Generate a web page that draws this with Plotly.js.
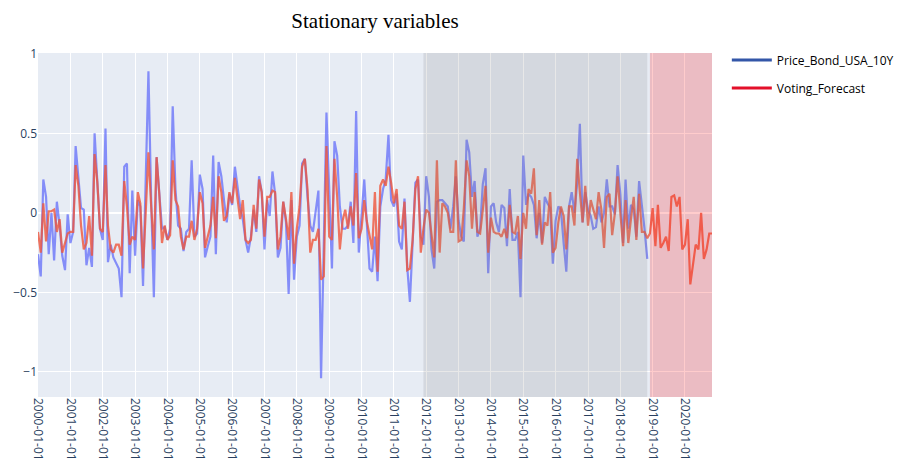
<!DOCTYPE html>
<html>
<head>
<meta charset="utf-8">
<script src="https://cdn.plot.ly/plotly-3.0.1.min.js"></script>
<style>html,body{margin:0;padding:0;background:#fff;}#chart{width:900px;height:466px;}</style>
</head>
<body>
<div id="chart"></div>
<script>
// Monthly series starting 2000-01
const startYear = 2000;
const bondValues = [
-0.26,-0.40,0.21,0.10,-0.26,0.00,-0.30,0.07,-0.08,-0.27,-0.36,-0.01,
-0.19,-0.12,0.42,0.22,0.03,0.02,-0.33,-0.22,-0.34,0.50,0.20,-0.10,
-0.17,0.53,-0.31,-0.20,-0.28,-0.32,-0.35,-0.53,0.29,0.31,-0.38,0.14,
-0.27,0.08,0.04,-0.46,0.27,0.89,0.10,-0.53,0.35,0.15,-0.10,-0.09,
-0.17,-0.10,0.67,0.15,-0.08,-0.10,-0.24,-0.12,-0.10,0.33,-0.15,-0.13,
0.24,0.15,-0.28,-0.21,-0.15,0.36,-0.26,0.32,0.23,0.08,-0.06,0.12,
0.05,0.29,0.17,0.04,-0.04,-0.17,-0.25,-0.15,0.02,-0.12,0.23,0.13,
-0.23,0.08,-0.02,0.26,0.12,-0.28,-0.22,0.07,-0.06,-0.51,0.08,-0.42,
-0.15,-0.08,0.31,0.34,0.10,-0.08,-0.12,0.02,0.14,-1.04,-0.20,0.63,
0.15,-0.35,0.45,0.36,0.04,-0.10,-0.10,-0.08,0.07,-0.19,0.64,-0.25,
-0.02,0.21,-0.06,-0.35,-0.37,-0.15,-0.43,0.04,0.15,0.21,0.49,0.08,
0.04,0.12,-0.18,-0.23,0.09,-0.34,-0.56,-0.23,0.19,0.21,-0.15,-0.20,
0.23,0.10,-0.23,-0.35,0.07,0.08,0.08,0.06,0.04,-0.10,0.04,0.23,
-0.05,-0.15,-0.18,0.46,0.38,0.10,0.20,-0.15,-0.10,0.18,0.28,-0.38,
0.04,0.06,-0.06,-0.12,0.05,0.03,-0.21,0.15,-0.17,-0.17,-0.12,-0.53,
0.36,0.05,0.12,0.10,0.05,-0.16,0.00,-0.19,0.10,0.06,0.03,-0.32,
-0.05,0.04,0.02,-0.19,-0.37,0.04,0.13,0.00,0.19,0.56,-0.06,0.13,
0.02,-0.02,-0.10,-0.09,0.04,-0.06,0.00,0.21,0.04,0.04,-0.01,0.30,
0.12,-0.19,0.21,-0.10,0.05,0.02,-0.15,0.20,0.06,-0.10,-0.29
];
const votingValues = [
-0.12,-0.25,0.06,-0.18,0.01,0.01,0.02,-0.12,-0.04,-0.25,-0.19,-0.13,
-0.12,-0.12,0.30,0.17,-0.08,-0.23,-0.19,-0.02,-0.27,0.37,0.19,-0.10,
-0.12,0.30,-0.08,-0.23,-0.25,-0.20,-0.20,-0.27,0.20,0.04,-0.20,-0.15,
-0.17,0.13,0.06,-0.35,0.00,0.38,0.05,-0.23,0.35,0.12,-0.19,-0.08,
-0.17,-0.14,0.33,0.08,0.04,-0.15,-0.23,-0.15,-0.15,-0.05,-0.17,-0.10,
0.13,0.06,-0.22,-0.15,-0.08,0.10,-0.16,0.23,0.13,-0.05,-0.02,0.13,
0.06,0.22,0.08,-0.04,0.08,-0.17,-0.19,-0.17,0.05,-0.10,0.21,0.13,
-0.15,0.10,0.10,0.14,0.13,-0.23,-0.15,0.07,-0.04,-0.17,0.13,-0.32,
-0.10,0.04,0.29,0.34,0.15,-0.25,-0.17,-0.17,-0.10,-0.42,-0.40,0.42,
-0.15,-0.17,0.34,0.10,-0.23,-0.05,0.02,-0.10,0.04,-0.08,0.25,-0.16,
-0.10,0.08,-0.05,-0.15,-0.23,0.13,-0.37,0.17,0.21,0.17,0.29,0.19,
0.06,0.15,-0.08,-0.10,0.07,-0.36,-0.35,-0.17,0.15,0.23,-0.25,-0.10,
0.02,0.00,-0.15,-0.28,0.33,-0.25,0.06,0.04,0.00,-0.12,-0.12,0.33,
-0.18,-0.17,0.03,0.33,0.23,-0.10,0.13,-0.12,-0.13,0.03,0.17,-0.25,
-0.03,-0.12,-0.13,-0.13,-0.15,-0.10,-0.16,0.05,-0.12,-0.13,-0.02,-0.29,
0.00,-0.10,0.15,0.12,0.28,-0.14,0.08,-0.20,-0.06,-0.08,0.13,-0.25,
-0.22,-0.06,0.04,-0.02,-0.23,0.04,0.04,-0.08,0.34,0.13,-0.06,0.17,
-0.08,0.08,0.03,-0.04,0.13,0.02,-0.22,0.10,0.12,-0.14,0.00,0.23,
0.00,-0.21,0.08,-0.19,-0.04,0.10,-0.17,0.12,-0.12,-0.12,-0.16,-0.13,
0.03,-0.21,0.05,-0.22,-0.19,-0.15,-0.24,0.10,0.11,0.04,0.10,-0.23,
-0.20,-0.04,-0.45,-0.32,-0.20,-0.23,0.00,-0.29,-0.23,-0.13,-0.13
];
const seriesNames = ["Price_Bond_USA_10Y", "Voting_Forecast"];
const validationStart = "2011-12-01", validationEnd = "2018-11-01";
const testStart = "2018-12-01", testEnd = "2020-11-01";
const yTicks = [-1, -0.5, 0, 0.5, 1];
const yTickText = ["\u22121", "\u22120.5", "0", "0.5", "1"];

function monthDates(n) {
  const out = [];
  for (let i = 0; i < n; i++) {
    const y = startYear + Math.floor(i / 12);
    const m = (i % 12) + 1;
    out.push(y + "-" + (m < 10 ? "0" + m : m) + "-01");
  }
  return out;
}
const bondDates = monthDates(bondValues.length);
const votingDates = monthDates(votingValues.length);

const traces = [
  {x: bondDates, y: bondValues, type: "scatter", mode: "lines", name: seriesNames[0],
   line: {color: "#636EFA", width: 2.2}, opacity: 0.75, showlegend: false},
  {x: votingDates, y: votingValues, type: "scatter", mode: "lines", name: seriesNames[1],
   line: {color: "#EF553B", width: 2.2}, opacity: 0.8, showlegend: false},
  {x: [null], y: [null], type: "scatter", mode: "lines", name: seriesNames[0],
   line: {color: "#3356a8", width: 3}, legendgroup: "a"},
  {x: [null], y: [null], type: "scatter", mode: "lines", name: seriesNames[1],
   line: {color: "#e3102a", width: 3}, legendgroup: "b"}
];

const layout = {
  width: 900, height: 466,
  margin: {l: 37.5, r: 187.5, t: 53, b: 69, autoexpand: false},
  paper_bgcolor: "#ffffff",
  plot_bgcolor: "#E7ECF4",
  font: {family: "Open Sans, Verdana, Arial, sans-serif", size: 12, color: "#2a3f5f"},
  title: {text: "Stationary variables", x: 0.5, xref: "paper", xanchor: "center",
          y: 0.955, yref: "container", yanchor: "middle",
          font: {family: "Liberation Serif, Times New Roman, serif", size: 21, color: "#000"}},
  xaxis: {type: "date", range: [votingDates[0], votingDates[votingDates.length - 1]],
          dtick: "M12", tick0: "2000-01-01", tickformat: "%Y-%m-%d", tickangle: 90,
          gridcolor: "#ffffff", zeroline: false, showline: false, ticks: "",
          tickfont: {size: 12}},
  yaxis: {range: [-1.158, 1.005], tickvals: yTicks, ticktext: yTickText,
          gridcolor: "#ffffff", zerolinecolor: "#ffffff", zerolinewidth: 2,
          showline: false, ticks: "", tickfont: {size: 12}},
  legend: {x: 1.022, y: 1.022, xanchor: "left", yanchor: "top", tracegroupgap: 9,
           itemwidth: 40, font: {size: 12, color: "#000"}, bgcolor: "rgba(0,0,0,0)"},
  shapes: [
    {type: "rect", xref: "x", yref: "paper", x0: validationStart, x1: validationEnd, y0: 0, y1: 1,
     fillcolor: "gray", opacity: 0.18, line: {width: 0}, layer: "above"},
    {type: "rect", xref: "x", yref: "paper", x0: testStart, x1: testEnd, y0: 0, y1: 1,
     fillcolor: "red", opacity: 0.2, line: {width: 0}, layer: "above"}
  ],
  showlegend: true
};

Plotly.newPlot("chart", traces, layout, {displayModeBar: false, staticPlot: true});
</script>
</body>
</html>
